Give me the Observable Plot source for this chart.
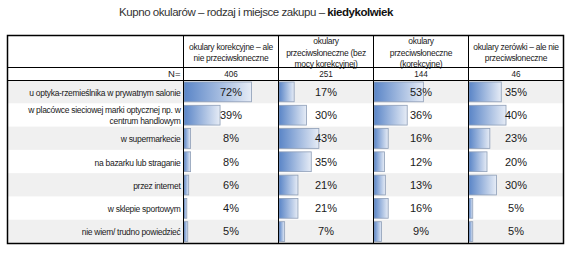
<!DOCTYPE html>
<html>
<head>
<meta charset="utf-8">
<script src="https://cdn.jsdelivr.net/npm/d3@7"></script>
<script src="https://cdn.jsdelivr.net/npm/@observablehq/plot@0.6"></script>
<style>
  html, body { margin: 0; padding: 0; background: #fff; }
  body { width: 570px; height: 268px; overflow: hidden; font-family: "Liberation Sans", Arial, sans-serif; }
  #title { height: 33px; width: 512px; text-align: center; font-size: 11.5px; letter-spacing: -0.45px; line-height: 24px; color: #333; }
  #title b { color: #111; }
  svg { display: block; }
</style>
</head>
<body>
<div id="title">Kupno okularów – rodzaj i miejsce zakupu – <b>kiedykolwiek</b></div>
<div id="chart"></div>
<script>
const categories = [
  "u optyka-rzemieślnika w prywatnym salonie",
  "w placówce sieciowej marki optycznej np. w\ncentrum handlowym",
  "w supermarkecie",
  "na bazarku lub straganie",
  "przez internet",
  "w sklepie sportowym",
  "nie wiem/ trudno powiedzieć"
];
const seriesNames = [
  "okulary korekcyjne – ale\nnie przeciwsłoneczne",
  "okulary\nprzeciwsłoneczne (bez\nmocy korekcyjnej)",
  "okulary\nprzeciwsłoneczne\n(korekcyjne)",
  "okulary zerówki – ale nie\nprzeciwsłoneczne"
];
const nLabel = "N=";
const nValues = [406, 251, 144, 46];
const korekcyjne = [72, 39, 8, 8, 6, 4, 5];
const przeciwslBez = [17, 30, 43, 35, 21, 21, 7];
const przeciwslKor = [53, 36, 16, 12, 13, 16, 9];
const zerowki = [35, 40, 23, 20, 30, 5, 5];
const seriesValues = [korekcyjne, przeciwslBez, przeciwslKor, zerowki];

// table geometry in scale units: each value column spans 100 units (0–100%)
const rowUnit = 163 / 7;
const yTop = -45 / rowUnit;
const yN = -13 / rowUnit;
const xLeft = -176 / 0.95;
const nCols = seriesNames.length;

const cells = [];
seriesValues.forEach((vals, c) => vals.forEach((v, r) => cells.push({c, r, v})));
const rows = categories.map((label, r) => ({label, r}));
const heads = seriesNames.map((label, c) => ({label, c, n: nValues[c]}));

const font = "Liberation Sans, Arial, sans-serif";

const plot = Plot.plot({
  width: 570,
  height: 235,
  marginLeft: 7,
  marginRight: 7,
  marginTop: 2,
  marginBottom: 25,
  style: {fontFamily: font, background: "transparent"},
  x: {type: "linear", domain: [xLeft, nCols * 100], axis: null},
  y: {type: "linear", domain: [yTop, categories.length], range: [2, 210], axis: null},
  marks: [
    Plot.rect(rows.filter(d => d.r % 2 === 0), {
      x1: xLeft, x2: nCols * 100, y1: d => d.r, y2: d => d.r + 1, fill: "#f0f0f0"
    }),
    Plot.rect(cells, {
      x1: d => d.c * 100, x2: d => d.c * 100 + d.v,
      y1: d => d.r, y2: d => d.r + 1,
      insetTop: 2, insetBottom: 1.5, insetLeft: 1,
      fill: "url(#barGrad)", stroke: "#8d9db6", strokeWidth: 0.8
    }),
    Plot.text(cells, {
      x: d => d.c * 100 + 50, y: d => d.r + 0.5, text: d => d.v + "%",
      fontSize: 11, fill: "#1a1a1a"
    }),
    Plot.text(rows, {
      x: 0, y: d => d.r + 0.5, text: "label", textAnchor: "end", dx: -3,
      fontSize: 8.5, lineHeight: 1.3, fill: "#1a1a1a"
    }),
    Plot.text(heads, {
      x: d => d.c * 100 + 50, y: (yTop + yN) / 2 + 0.02, text: "label",
      fontSize: 8.5, lineHeight: 1.3, fill: "#1a1a1a"
    }),
    Plot.text([nLabel], {
      x: 0, y: yN / 2, text: d => d, textAnchor: "end", dx: -3, fontSize: 9.5, fill: "#1a1a1a"
    }),
    Plot.text(heads, {
      x: d => d.c * 100 + 50, y: yN / 2, text: d => String(d.n), fontSize: 8.2, fill: "#1a1a1a"
    }),
    Plot.ruleY([yN, 0], {x1: xLeft, x2: nCols * 100, stroke: "#000", strokeWidth: 1.2}),
    Plot.ruleX(d3.range(nCols), {x: d => d * 100, y1: yTop, y2: categories.length, stroke: "#000", strokeWidth: 1}),
    Plot.frame({stroke: "#000", strokeWidth: 1.5})
  ]
});

const svg = d3.select(plot);
svg.selectAll('g[font-size="8.5"]').attr("letter-spacing", "-0.3");
const grad = svg.insert("defs", ":first-child").append("linearGradient")
  .attr("id", "barGrad").attr("x1", "0").attr("x2", "1").attr("y1", "0").attr("y2", "0");
grad.append("stop").attr("offset", "0").attr("stop-color", "#5a85c7");
grad.append("stop").attr("offset", "1").attr("stop-color", "#e6ecf6");

document.getElementById("chart").appendChild(plot);
</script>
</body>
</html>
